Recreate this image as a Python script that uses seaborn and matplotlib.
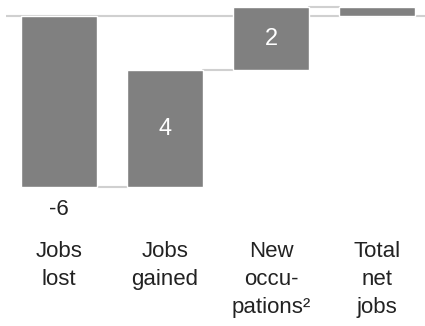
import matplotlib
matplotlib.use('Agg')
import matplotlib.pyplot as plt
import matplotlib.transforms as mtrans
import seaborn as sb
import pandas as pd

# data
categories = ['Jobs\nlost', 'Jobs\ngained', 'New\noccu-\npations²', 'Total\nnet\njobs']
changes = [-6.0, 4.1, 2.2]
shown = ['-6', '4', '2', '']

sb.set_style('white')
plt.rcParams['font.family'] = ['Liberation Sans', 'DejaVu Sans']

# waterfall bottoms / heights
total = sum(changes)
bottoms, heights = [], []
run = 0
for c in changes:
    bottoms.append(min(run, run + c))
    heights.append(abs(c))
    run += c
bottoms.append(0)
heights.append(total)

df = pd.DataFrame({'cat': categories, 'height': heights})

fig = plt.figure(figsize=(4.25, 3.26), dpi=100)
ax = fig.add_axes([6 / 425, 0, 1 - 6 / 425, 1])
sb.barplot(df, x='cat', y='height', bottom=bottoms, color='#808080',
           saturation=1, width=0.72, ax=ax, zorder=2)

# baseline and connectors
ax.axhline(0, color='#d0d0d0', lw=1.5, zorder=1)
ends = [bottoms[0], bottoms[1] + heights[1], bottoms[2] + heights[2]]
for i, y in enumerate(ends):
    ax.plot([i + 0.36, i + 0.64], [y, y], color='#d0d0d0', lw=1.5, zorder=1)

# value labels
ax.text(0, -6.8, shown[0], ha='center', va='center', fontsize=16, color='#222222')
for i in (1, 2):
    ax.text(i, bottoms[i] + heights[i] / 2, shown[i], ha='center', va='center',
            fontsize=17, color='white')

# category labels, one line at a time (baselines in pixels from the top)
tr = mtrans.blended_transform_factory(ax.transData, fig.transFigure)
for i, lab in enumerate(categories):
    for j, line in enumerate(lab.split('\n')):
        base = 257 + 28 * j
        ax.text(i, 1 - base / 326, line, ha='center', va='baseline',
                fontsize=16, color='#222222', transform=tr)

ax.set_xlim(-0.5, 3.45)
ax.set_ylim(-10.88, 0.56)
ax.axis('off')
fig.savefig('out.png', dpi=100)
